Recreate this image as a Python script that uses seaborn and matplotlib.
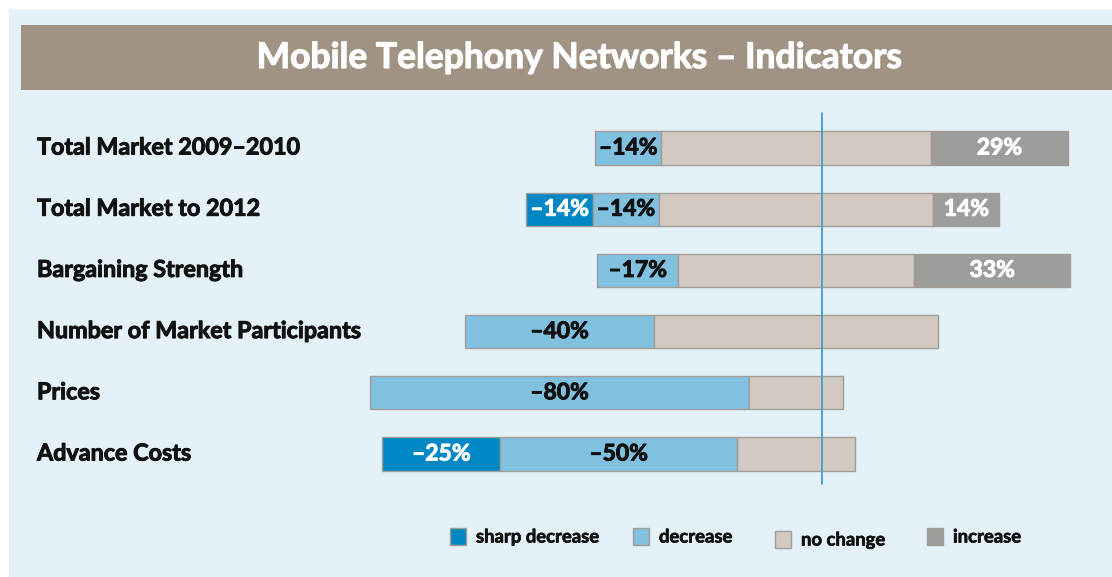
import matplotlib
matplotlib.use("Agg")
import matplotlib.pyplot as plt
import matplotlib.patheffects as pe
from matplotlib.patches import Rectangle
import numpy as np
import pandas as pd
import seaborn as sns

# Indicators and their share of answers per trend class (in %)
categories = [
    "Total Market 2009\u20132010",
    "Total Market to 2012",
    "Bargaining Strength",
    "Number of Market Participants",
    "Prices",
    "Advance Costs",
]
sharp_decrease = [0, 14, 0, 0, 0, 25]
decrease = [14, 14, 17, 40, 80, 50]
no_change = [57, 58, 50, 60, 20, 25]
increase = [29, 14, 33, 0, 0, 0]

legend_labels = ["sharp decrease", "decrease", "no change", "increase"]
title = "Mobile Telephony Networks \u2013 Indicators"

sns.set_theme(style="white")
plt.rcParams["font.family"] = ["Lato", "DejaVu Sans"]

W, H = 1112, 577
fig = plt.figure(figsize=(W / 100, H / 100), dpi=100, facecolor="white")


def heavy(color, w=0.7):
    # slight outline in the text colour to give a heavier stroke
    return [pe.withStroke(linewidth=w, foreground=color)]


# Background panel and title band (pixel geometry converted to figure coords)
def px_rect(x0, y0, x1, y1, color):
    fig.patches.append(Rectangle((x0 / W, 1 - y1 / H), (x1 - x0) / W, (y1 - y0) / H,
                                 transform=fig.transFigure, facecolor=color,
                                 edgecolor="none", zorder=-2))


px_rect(9, 9, W, H, "#e4f1f8")
px_rect(21, 25, W, 90, "#a09384")
fig.text(579 / W, 1 - 58 / H, title, color="white", fontsize=25.5, fontweight="bold",
         ha="center", va="center", path_effects=heavy("white", 0.8))

ax = fig.add_axes([0, 0, 1, 1])
ax.set_facecolor("none")

colors = ["#0088c4", "#80c1e0", "#d1c9c2", "#9d9d9b"]
text_colors = ["white", "#111111", None, "white"]
edge = "#a39c95"

df = pd.DataFrame({
    "indicator": categories,
    "sharp decrease": sharp_decrease,
    "decrease": decrease,
    "no change": no_change,
    "increase": increase,
})

# Bars are centred on the middle of the "no change" segment
start = -(df["sharp decrease"] + df["decrease"] + df["no change"] / 2.0)
cursor = start.copy()
for name, col, tcol in zip(legend_labels, colors, text_colors):
    vals = df[name]
    mask = vals > 0
    sub = df[mask]
    lefts = cursor[mask].to_numpy()
    sns.barplot(data=sub, x=name, y="indicator", order=categories, orient="h",
                left=lefts, color=col, width=0.54, edgecolor=edge, linewidth=1.0,
                saturation=1, ax=ax, zorder=2)
    if tcol is not None:
        sign = "\u2013" if name in ("sharp decrease", "decrease") else ""
        for i in np.where(mask)[0]:
            v = vals.iloc[i]
            ax.text(cursor.iloc[i] + v / 2.0, i, f"{sign}{v:g}%", ha="center",
                    va="center", color=tcol, fontsize=16.5, fontweight="bold",
                    zorder=4, path_effects=heavy(tcol))
    cursor = cursor + vals

# Reference line
ax.plot([5.5, 5.5], [-0.572, 5.49], color="#3d9fd0", lw=1.3, zorder=3)

# Map data to pixel geometry: centre at x=796 px, 4.73 px per %, rows 61.2 px apart
cx, sx = 796.0, 4.73
ax.set_xlim((0 - cx) / sx, (W - cx) / sx)
y0, sy = 148.0, 61.2
ax.set_ylim((H - y0) / sy, (0 - y0) / sy)
ax.axis("off")

# Category labels
trans = matplotlib.transforms.blended_transform_factory(fig.transFigure, ax.transData)
for i, cat in enumerate(categories):
    ax.text(37 / W, i, cat, transform=trans, ha="left", va="center",
            fontsize=16.8, fontweight="bold", color="#111111",
            path_effects=heavy("#111111"))

# Legend
leg_x = [450, 633, 775, 927]
leg_y = [537, 537, 540, 537]
for lx, ly, lab, col in zip(leg_x, leg_y, legend_labels, colors):
    fig.patches.append(Rectangle((lx / W, 1 - (ly + 8) / H), 16 / W, 17 / H,
                                 transform=fig.transFigure, facecolor=col,
                                 edgecolor=edge, lw=1.0, zorder=3))
    fig.text((lx + 26) / W, 1 - ly / H, lab, ha="left", va="center",
             fontsize=13.3, fontweight="bold", color="#111111",
             path_effects=heavy("#111111", 0.5))

fig.savefig("out.png", dpi=100, facecolor="white")
